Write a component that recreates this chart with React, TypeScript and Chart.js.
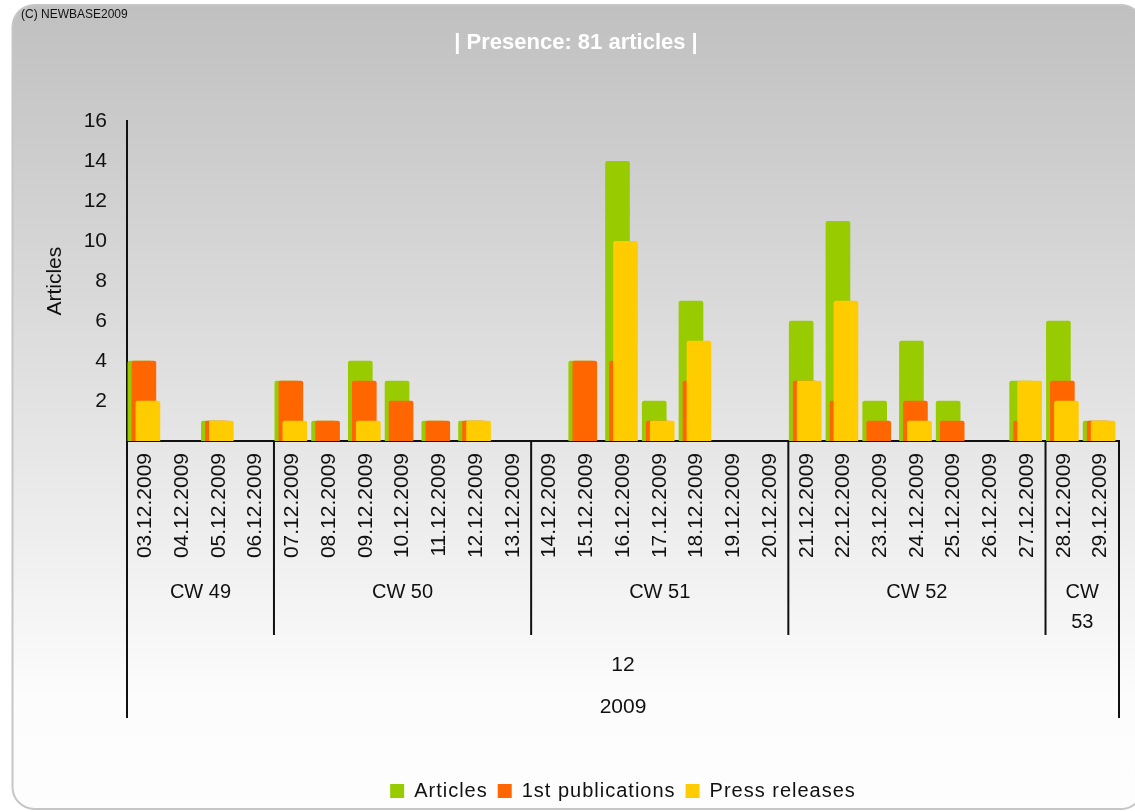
import React, { useEffect, useRef } from 'react';
import { Chart, registerables } from 'chart.js';

Chart.register(...registerables);

const dates = [
  '03.12.2009', '04.12.2009', '05.12.2009', '06.12.2009',
  '07.12.2009', '08.12.2009', '09.12.2009', '10.12.2009', '11.12.2009', '12.12.2009', '13.12.2009',
  '14.12.2009', '15.12.2009', '16.12.2009', '17.12.2009', '18.12.2009', '19.12.2009', '20.12.2009',
  '21.12.2009', '22.12.2009', '23.12.2009', '24.12.2009', '25.12.2009', '26.12.2009', '27.12.2009',
  '28.12.2009', '29.12.2009',
];
const articles = [4, 0, 1, 0, 3, 1, 4, 3, 1, 1, 0, 0, 4, 14, 2, 7, 0, 0, 6, 11, 2, 5, 2, 0, 3, 6, 1];
const firstPublications = [4, 0, 1, 0, 3, 1, 3, 2, 1, 1, 0, 0, 4, 4, 1, 3, 0, 0, 3, 2, 1, 2, 1, 0, 1, 3, 1];
const pressReleases = [2, 0, 1, 0, 1, 0, 1, 0, 0, 1, 0, 0, 0, 10, 1, 5, 0, 0, 3, 7, 0, 1, 0, 0, 3, 2, 1];

const weekLabels = ['CW 49', 'CW 50', 'CW 51', 'CW 52', 'CW 53'];
const weekSpans = [4, 7, 7, 7, 2];
const monthLabels = ['12'];
const monthSpans = [27];
const yearLabels = ['2009'];
const yearSpans = [27];

const yTicks = [2, 4, 6, 8, 10, 12, 14, 16];
const seriesNames = ['Articles', '1st publications', 'Press releases'];
const seriesColors = ['#99cc00', '#ff6600', '#ffcc00'];
const chartTitle = '| Presence: 81 articles |';
const copyright = '(C) NEWBASE2009';
const yAxisTitle = 'Articles';

const FONT = '"Liberation Sans", Arial, sans-serif';
const NARROW = '"Liberation Sans Narrow", "Arial Narrow", "Liberation Sans", sans-serif';

export default function App() {
  const ref = useRef<HTMLCanvasElement>(null);

  useEffect(() => {
    document.body.style.margin = '0';
    const canvas = ref.current!;
    const barShift = [-5.5, -1.5, 2.5];

    const bgPlugin = {
      id: 'bgPanel',
      beforeDraw(chart: any) {
        const { ctx, width, height } = chart;
        ctx.save();
        ctx.fillStyle = '#ffffff';
        ctx.fillRect(0, 0, width, height);
        const x0 = 12.5, y0 = 5, x1 = width + 8, y1 = height - 2;
        const g = ctx.createLinearGradient(0, y0, 0, y1);
        g.addColorStop(0, '#c0c0c0');
        g.addColorStop(0.86, '#fcfcfc');
        g.addColorStop(1, '#fdfdfd');
        ctx.beginPath();
        ctx.roundRect(x0, y0, x1 - x0, y1 - y0, 22);
        ctx.fillStyle = g;
        ctx.fill();
        ctx.strokeStyle = '#c6c6c6';
        ctx.lineWidth = 2;
        ctx.stroke();
        ctx.fillStyle = '#111';
        ctx.font = `12px ${FONT}`;
        ctx.textAlign = 'left';
        ctx.textBaseline = 'middle';
        ctx.fillText(copyright, 21, 15);
        ctx.restore();
      },
    };

    const shiftPlugin = {
      id: 'barShift',
      afterDatasetsUpdate(chart: any) {
        chart.data.datasets.forEach((_ds: any, i: number) => {
          const meta = chart.getDatasetMeta(i);
          meta.data.forEach((el: any) => {
            el.x += barShift[i];
          });
        });
      },
    };

    const legendSpacingPlugin = {
      id: 'legendSpacing',
      afterInit(chart: any) {
        const lg = chart.legend;
        if (!lg) return;
        const fit = lg.fit.bind(lg);
        const draw = lg.draw.bind(lg);
        lg.fit = () => {
          const c = chart.ctx;
          const prev = c.letterSpacing;
          c.letterSpacing = '1px';
          fit();
          c.letterSpacing = prev || '0px';
        };
        lg.draw = () => {
          const c = chart.ctx;
          const prev = c.letterSpacing;
          c.letterSpacing = '1px';
          draw();
          c.letterSpacing = prev || '0px';
        };
      },
    };

    const hierarchyPlugin = {
      id: 'hierarchy',
      afterDraw(chart: any) {
        const { ctx, chartArea } = chart;
        const xs = chart.scales.x;
        const b = chartArea.bottom;
        const n = dates.length;
        const edge = (i: number) => xs.getPixelForValue(i - 0.5);
        ctx.save();
        ctx.strokeStyle = '#111';
        ctx.lineWidth = 2;
        ctx.beginPath();
        [0, n].forEach((i) => {
          const px = edge(i);
          ctx.moveTo(px, b);
          ctx.lineTo(px, b + 277);
        });
        let acc = 0;
        weekSpans.forEach((s) => {
          acc += s;
          if (acc < n) {
            const px = edge(acc);
            ctx.moveTo(px, b);
            ctx.lineTo(px, b + 194);
          }
        });
        ctx.stroke();

        ctx.fillStyle = '#111';
        ctx.textAlign = 'center';
        ctx.textBaseline = 'middle';
        const drawRow = (labels: string[], spans: number[], y: number, size: number) => {
          ctx.font = `${size}px ${FONT}`;
          let a = 0;
          labels.forEach((lab, k) => {
            const l = edge(a);
            const r = edge(a + spans[k]);
            a += spans[k];
            const cx = (l + r) / 2;
            if (ctx.measureText(lab).width > r - l - 20) {
              lab.split(' ').forEach((p, j) => ctx.fillText(p, cx, y + j * 30));
            } else {
              ctx.fillText(lab, cx, y);
            }
          });
        };
        drawRow(weekLabels, weekSpans, b + 151, 20);
        drawRow(monthLabels, monthSpans, b + 224, 21);
        drawRow(yearLabels, yearSpans, b + 266, 21);
        ctx.restore();
      },
    };

    const series = [articles, firstPublications, pressReleases];

    const chart = new Chart(canvas, {
      type: 'bar',
      data: {
        labels: dates,
        datasets: series.map((d, i) => ({
          label: seriesNames[i],
          data: d.map((v) => (v === 0 ? null : v)),
          backgroundColor: seriesColors[i],
          borderWidth: 0,
          borderRadius: 2,
          borderSkipped: 'bottom',
          barThickness: 24,
          grouped: false,
          order: 3 - i,
        })),
      },
      options: {
        responsive: false,
        animation: false,
        devicePixelRatio: 1,
        layout: { padding: { left: 33, right: 16, top: 0, bottom: 0 } },
        plugins: {
          title: {
            display: true,
            text: chartTitle,
            color: '#ffffff',
            font: { family: FONT, size: 22, weight: 'bold' },
            padding: { top: 30, bottom: 65 },
          },
          legend: {
            position: 'bottom',
            fullSize: false,
            labels: {
              sort: (a: any, b: any) => a.datasetIndex - b.datasetIndex,
              boxWidth: 14,
              boxHeight: 14,
              padding: 10,
              color: '#111',
              font: { family: FONT, size: 20 },
            },
          },
          tooltip: { enabled: false },
        },
        scales: {
          x: {
            type: 'category',
            grid: { display: false, drawTicks: false },
            border: { display: true, color: '#111', width: 2 },
            ticks: {
              autoSkip: false,
              minRotation: 90,
              maxRotation: 90,
              padding: 12,
              color: '#111',
              font: { family: FONT, size: 21 },
            },
            afterFit: (s: any) => {
              s.height = 330;
              s.paddingLeft = 0;
              s.paddingRight = 0;
            },
          },
          y: {
            min: 0,
            max: 16,
            grid: { display: false, drawTicks: false },
            border: { display: true, color: '#111', width: 2 },
            afterBuildTicks: (s: any) => {
              s.ticks = yTicks.map((v) => ({ value: v }));
            },
            ticks: {
              padding: 20,
              color: '#111',
              font: { family: NARROW, size: 21 },
            },
            title: {
              display: true,
              text: yAxisTitle,
              color: '#111',
              font: { family: FONT, size: 21 },
              padding: { top: 9.4, bottom: 0 },
            },
            afterFit: (s: any) => {
              s.width = 94;
            },
          },
        },
      } as any,
      plugins: [bgPlugin, shiftPlugin, legendSpacingPlugin, hierarchyPlugin],
    });

    return () => chart.destroy();
  }, []);

  return (
    <div style={{ width: 1135, height: 811 }}>
      <canvas ref={ref} width={1135} height={811} style={{ display: 'block', width: 1135, height: 811 }} />
    </div>
  );
}
